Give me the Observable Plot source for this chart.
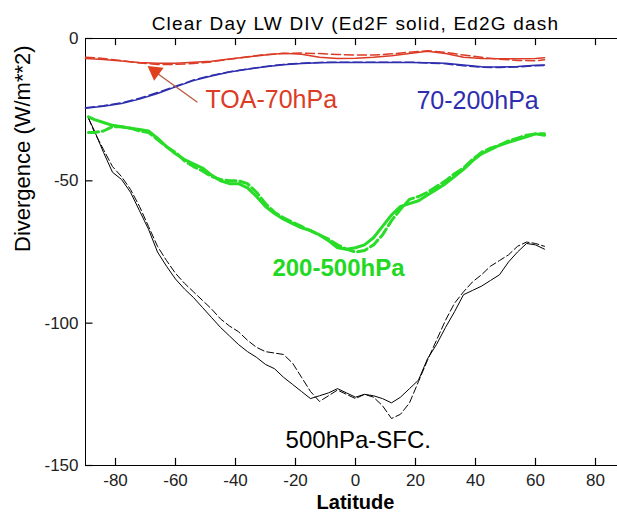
<!DOCTYPE html>
<html><head><meta charset="utf-8">
<script src="https://cdn.jsdelivr.net/npm/d3@7"></script>
<script src="https://cdn.jsdelivr.net/npm/@observablehq/plot@0.6"></script>
<style>
html,body{margin:0;padding:0;background:#fff;overflow:hidden;}
#chart{width:617px;height:522px;overflow:hidden;}
</style></head><body><div id="chart"></div>
<script>
const title = "Clear Day LW DIV (Ed2F solid, Ed2G dash";
const xLabel = "Latitude";
const yLabel = "Divergence (W/m**2)";
const xTicks = [-80, -60, -40, -20, 0, 20, 40, 60, 80];
const yTicks = [0, -50, -100, -150];

// Fine latitude grid (black + green curves)
const latA = [-89,-87,-84,-81,-78,-75,-72,-69,-66,-63,-60,-57,-54,-51,-48,-45,-42,-39,-36,-33,-30,-27,-24,-21,-18,-15,-12,-9,-6,-3,0,3,6,9,12,15,18,21,24,27,30,33,36,39,42,45,48,51,54,57,60,63];
const sfcF = [-28,-32.5,-40,-47,-49.5,-54,-60.5,-67,-75,-80,-84.5,-88,-91,-94.5,-98,-101.5,-104.5,-107.5,-110,-112,-114.5,-116,-119,-121.5,-124,-126.5,-125.5,-124.5,-123,-124.5,-126,-125,-125.5,-126.5,-128,-126,-123,-120,-112.5,-107.5,-101.5,-96,-90,-88.5,-87,-85,-83,-78.5,-75,-72,-72.5,-74];
const sfcG = [-28,-33,-39,-45,-48.5,-53,-59,-66,-73,-78,-82.5,-86,-89,-92,-95,-98.5,-101,-103,-106,-108.5,-110,-110.5,-111,-114,-119,-124,-127.5,-125.5,-123.5,-125,-126.5,-125,-126,-129,-133.5,-132,-128,-120.5,-113,-106,-99,-93,-89,-85.5,-83,-80,-78,-76,-73,-71.5,-72,-73];
const midF = [-27.5,-28.5,-29.5,-30.5,-31,-31.5,-32,-32.5,-35,-38,-40.5,-42.5,-44,-45.5,-48,-50,-51,-51,-52.5,-55.5,-59,-61.5,-63.5,-65,-66.5,-67.5,-69,-71,-73.5,-74,-73.5,-72.5,-70,-66,-62,-59,-58,-57,-55,-53,-51,-48.5,-46,-43,-40.5,-39,-37.5,-36.5,-35.5,-34.5,-33.5,-34];
const midG = [-33,-33,-32.5,-31,-31,-31.5,-32.5,-33,-35.5,-38,-40,-43,-45,-46.5,-48.5,-49.5,-50,-50,-51,-54,-58,-61,-63,-64.5,-66,-67.5,-69,-70.5,-72.5,-74,-75,-74.5,-72.5,-69,-64,-60,-56.5,-55.5,-54,-52,-50,-47.5,-45.5,-42.5,-40,-38.5,-37.5,-36,-35,-34,-33.5,-33.5];

// Coarser latitude grid (red + blue curves)
const latB = [-90,-84,-78,-72,-66,-60,-54,-48,-42,-36,-30,-24,-18,-12,-6,0,6,12,18,24,30,36,42,48,54,60,63];
const toaF = [-7,-7.4,-7.9,-8.4,-8.7,-8.7,-8.3,-8,-7.2,-6.5,-5.8,-5.2,-5.5,-6.6,-7,-6.9,-6.6,-6.1,-5.3,-4.5,-5.3,-6.6,-7,-7.1,-7.1,-7,-6.8];
const toaG = [-6.6,-7,-7.8,-8.6,-9.1,-9.1,-8.8,-8.2,-7.3,-6.4,-5.6,-5.3,-5.1,-5.3,-5.6,-5.8,-5.8,-5.4,-4.8,-4.3,-4.9,-5.8,-6.6,-7.3,-7.7,-7.8,-7.5];
const upF = [-24.5,-23.8,-22.8,-21.3,-19.3,-17,-14.8,-13.2,-11.8,-10.8,-9.9,-9.2,-8.8,-8.5,-8.4,-8.4,-8.4,-8.4,-8.4,-8.5,-8.7,-9.3,-9.9,-10,-9.8,-9.4,-9.3];
const upG = [-24.3,-23.6,-22.6,-21,-19,-16.8,-14.6,-13,-11.7,-10.7,-9.8,-9.1,-8.7,-8.4,-8.3,-8.3,-8.3,-8.3,-8.3,-8.6,-8.9,-9.6,-10.1,-10.2,-10,-9.6,-9.5];

// Annotations
const labelText = ["TOA-70hPa", "70-200hPa", "200-500hPa", "500hPa-SFC."];
const labelLat = [-50, 20.3, -27.7, -23.3];
const labelVal = [-21.6, -21.8, -80.9, -141];
const arrowFrom = [-52.7, -22.4];
const arrowTo = [-68, -10.8];
const arrowHead = [-66.8, -11.6];

const S = (lats, vals) => lats.map((x, i) => ({x, y: vals[i]}));
const font = "'Liberation Sans', Arial, Helvetica, sans-serif";

const red = "#dc3b26", blue = "#2e2eae", green = "#28dc28", black = "#000";

const chart = Plot.plot({
  width: 617, height: 522,
  marginLeft: 85, marginRight: -8, marginTop: 38, marginBottom: 57,
  style: {fontFamily: font, background: "#fff", color: "#000"},
  x: {domain: [-90, 90]},
  y: {domain: [-150, 0]},
  marks: [
    Plot.frame({stroke: "#000", strokeWidth: 1}),
    // tick labels
    Plot.axisX(xTicks, {anchor: "bottom", tickSize: 0, tickPadding: 8, fontSize: 17, fill: "#222", label: null, tickFormat: d => String(d)}),
    Plot.axisY(yTicks, {anchor: "left", tickSize: 0, tickPadding: 7, fontSize: 17, fill: "#222", label: null, tickFormat: d => String(d)}),
    // inward tick marks
    Plot.ruleX(xTicks, {x: d => d, y1: -150, y2: -147.5, stroke: "#000", strokeWidth: 1.2}),
    Plot.ruleX(xTicks, {x: d => d, y1: 0, y2: -2.5, stroke: "#000", strokeWidth: 1.2}),
    Plot.ruleY(yTicks, {y: d => d, x1: -90, x2: -87.5, stroke: "#000", strokeWidth: 1.2}),
    Plot.line(S(latA, sfcF), {x: "x", y: "y", stroke: black, strokeWidth: 1}),
    Plot.line(S(latA, sfcG), {x: "x", y: "y", stroke: black, strokeWidth: 1, strokeDasharray: "7,3"}),
    Plot.line(S(latA, midF), {x: "x", y: "y", stroke: green, strokeWidth: 3}),
    Plot.line(S(latA, midG), {x: "x", y: "y", stroke: green, strokeWidth: 3, strokeDasharray: "10,4"}),
    Plot.line(S(latB, upF), {x: "x", y: "y", stroke: blue, strokeWidth: 1.5}),
    Plot.line(S(latB, upG), {x: "x", y: "y", stroke: blue, strokeWidth: 1.5, strokeDasharray: "9,4"}),
    Plot.line(S(latB, toaF), {x: "x", y: "y", stroke: red, strokeWidth: 1.5}),
    Plot.line(S(latB, toaG), {x: "x", y: "y", stroke: red, strokeWidth: 1.5, strokeDasharray: "9,4"}),
    Plot.link([{x1: arrowFrom[0], y1: arrowFrom[1], x2: arrowTo[0], y2: arrowTo[1]}], {x1: "x1", y1: "y1", x2: "x2", y2: "y2", stroke: "#b85a40", strokeWidth: 1.3}),
    Plot.dot([arrowHead], {x: d => d[0], y: d => d[1], symbol: "triangle", r: 6, fill: "#e0401e", stroke: "none", rotate: -54}),
    Plot.text(labelText.slice(0, 1), {x: labelLat[0], y: labelVal[0], textAnchor: "start", fontSize: 25, fill: red}),
    Plot.text(labelText.slice(1, 2), {x: labelLat[1], y: labelVal[1], textAnchor: "start", fontSize: 25, fill: blue}),
    Plot.text(labelText.slice(2, 3), {x: labelLat[2], y: labelVal[2], textAnchor: "start", fontSize: 24, fontWeight: "bold", fill: "#22d822"}),
    Plot.text(labelText.slice(3, 4), {x: labelLat[3], y: labelVal[3], textAnchor: "start", fontSize: 24, fill: black}),
    Plot.text([title], {frameAnchor: "top", dy: -22, fontSize: 19, fill: "#000"}),
    Plot.text([xLabel], {frameAnchor: "bottom", dy: 43.5, fontSize: 20, fontWeight: "bold", fill: "#000"}),
    Plot.text([yLabel], {frameAnchor: "left", dx: -63, rotate: -90, fontSize: 22, fill: "#000"})
  ]
});
document.getElementById("chart").appendChild(chart);
d3.select(chart).selectAll("text").filter(function() { return this.textContent === title; }).style("letter-spacing", "1.2px");
</script></body></html>
